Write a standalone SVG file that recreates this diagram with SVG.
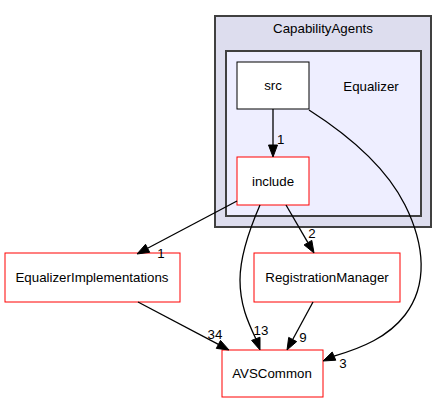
<svg xmlns="http://www.w3.org/2000/svg" width="447" height="403" viewBox="0 0 447 403">
<style>
text{font-family:"Liberation Sans",Arial,sans-serif;font-size:13.3px;fill:#000}
.c{text-anchor:middle}
.node{fill:#fff;stroke:#ff0000;stroke-width:1}
.e{fill:none;stroke:#000;stroke-width:1.3}
.ah{fill:#000;stroke:#000;stroke-width:1}
</style>
<rect width="447" height="403" fill="#fff"/>
<g id="cluster_CapabilityAgents">
<rect x="215" y="16" width="216" height="211" fill="#ddddee" stroke="#404040" stroke-width="2"/>
<text class="c" x="323" y="33">CapabilityAgents</text>
</g>
<g id="cluster_Equalizer">
<rect x="226" y="51" width="195" height="165" fill="#eeeeff" stroke="#404040" stroke-width="2"/>
<text class="c" x="371" y="91">Equalizer</text>
</g>
<g id="node_src">
<rect x="237" y="62" width="72" height="47" fill="#fff" stroke="#000" stroke-width="1"/>
<text class="c" x="273" y="90">src</text>
</g>
<g id="node_include">
<rect class="node" x="237" y="157" width="72" height="48"/>
<text class="c" x="273" y="186">include</text>
</g>
<g id="node_EqualizerImplementations">
<rect class="node" x="5" y="253" width="175" height="49"/>
<text class="c" x="92" y="282">EqualizerImplementations</text>
</g>
<g id="node_RegistrationManager">
<rect class="node" x="254" y="253" width="146" height="49"/>
<text class="c" x="327" y="282">RegistrationManager</text>
</g>
<g id="node_AVSCommon">
<rect class="node" x="222" y="350" width="101" height="47"/>
<text class="c" x="272" y="378">AVSCommon</text>
</g>
<g id="connectors">
<path class="e" d="M273,109 L273,145"/>
<polygon class="ah" points="268.5,145 273,157 277.5,145"/>
<text x="277" y="144">1</text>

<path class="e" d="M237,201 L147.6,248.3"/>
<polygon class="ah" points="149.7,252.3 137,254 145.5,244.3"/>
<text class="c" x="161" y="258">1</text>

<path class="e" d="M286,205 L307.9,242.6"/>
<polygon class="ah" points="311.8,240.4 314,253 304.1,244.9"/>
<text class="c" x="312" y="238">2</text>

<path class="e" d="M260,205 C250,228 240,255 240,280 C240,305 248,322 255.8,338.8"/>
<polygon class="ah" points="260,337.2 260,350 251.6,340.4"/>
<text class="c" x="261" y="335">13</text>

<path class="e" d="M138,302 L218.4,344.4"/>
<polygon class="ah" points="220.5,340.4 229,350 216.3,348.4"/>
<text class="c" x="215" y="339">34</text>

<path class="e" d="M313,302 L292.7,339.5"/>
<polygon class="ah" points="296.7,341.6 287,350 288.7,337.4"/>
<text class="c" x="303" y="342">9</text>

<path class="e" d="M309,110 C345,133 385,165 405,205 C425,245 428,285 405,315 C388,337 362,348 334,356.1"/>
<polygon class="ah" points="335.8,360.2 323,361 332.2,352"/>
<text class="c" x="343" y="368">3</text>
</g>
</svg>
